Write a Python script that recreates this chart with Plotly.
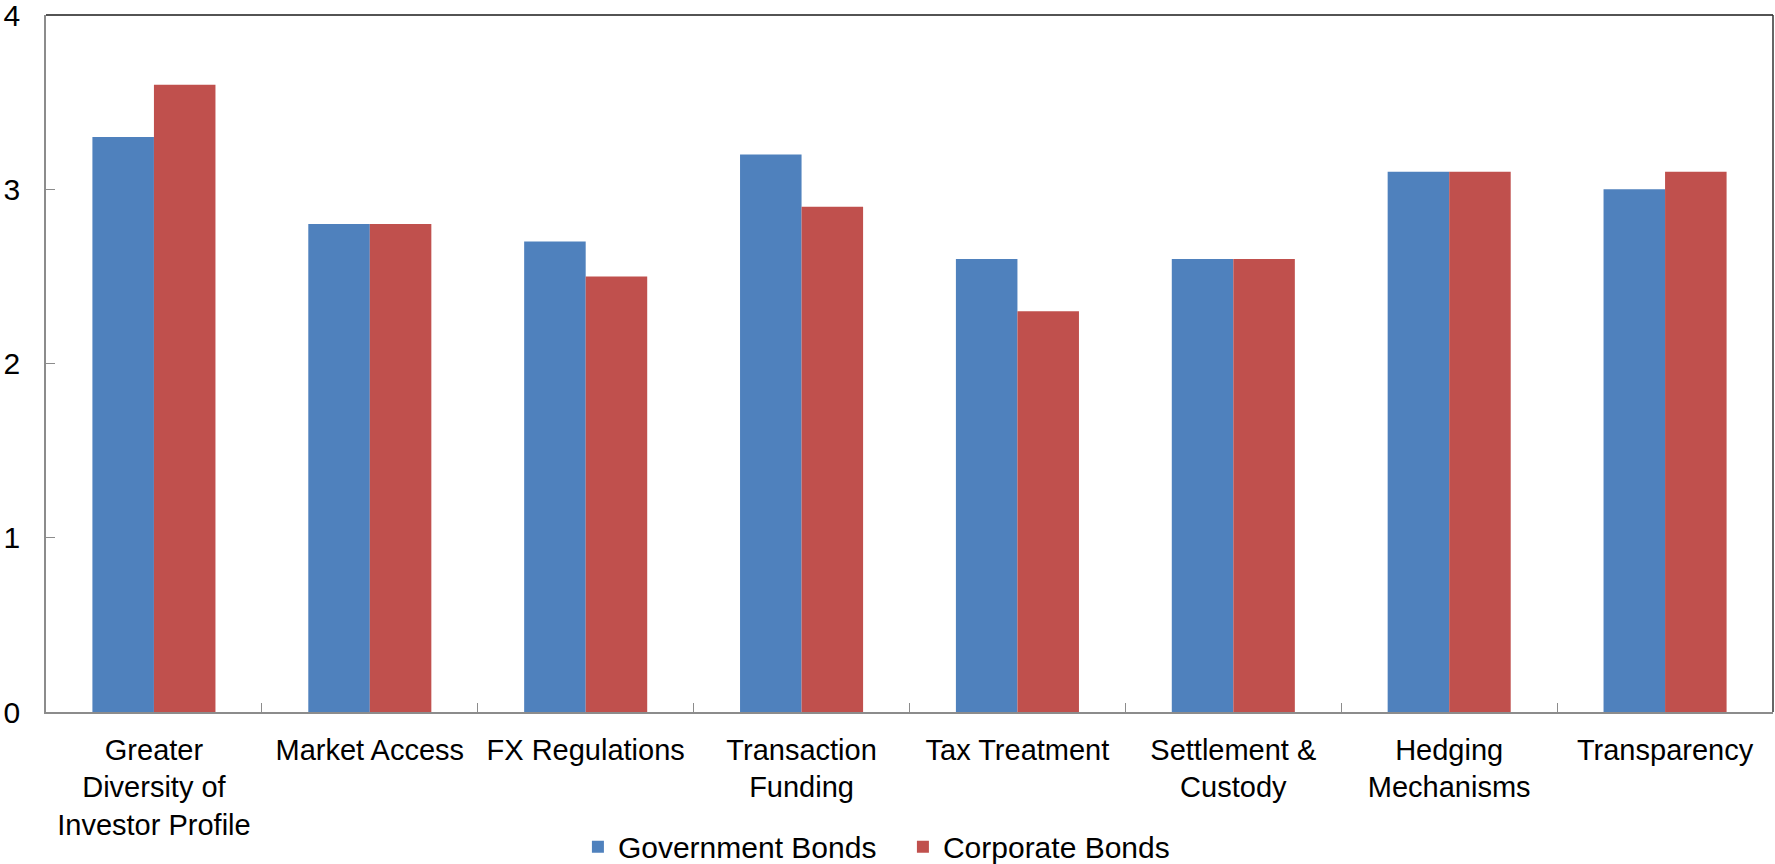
import plotly.graph_objects as go

categories = [
    "Greater<br>Diversity of<br>Investor Profile",
    "Market Access",
    "FX Regulations",
    "Transaction<br>Funding",
    "Tax Treatment",
    "Settlement &<br>Custody",
    "Hedging<br>Mechanisms",
    "Transparency",
]
government_bonds = [3.3, 2.8, 2.7, 3.2, 2.6, 2.6, 3.1, 3.0]
corporate_bonds = [3.6, 2.8, 2.5, 2.9, 2.3, 2.6, 3.1, 3.1]
y_ticks = [0, 1, 2, 3, 4]

BLUE = "#4F81BD"
RED = "#C0504D"
FONT = "Liberation Sans, Arial, sans-serif"

fig = go.Figure()
fig.add_trace(go.Bar(x=categories, y=government_bonds, name="Government Bonds",
                     marker=dict(color=BLUE, line=dict(width=0))))
fig.add_trace(go.Bar(x=categories, y=corporate_bonds, name="Corporate Bonds",
                     marker=dict(color=RED, line=dict(width=0))))

fig.update_layout(
    width=1775, height=864,
    margin=dict(l=46, r=2, t=15, b=152),
    plot_bgcolor="white", paper_bgcolor="white",
    barmode="group", bargap=0.43, bargroupgap=0,
    font=dict(family=FONT, size=29, color="black"),
    showlegend=True,
    legend=dict(orientation="h", x=0.308, xanchor="left",
                yref="container", y=0.02, yanchor="middle",
                entrywidth=280, entrywidthmode="pixels",
                font=dict(size=30), bgcolor="rgba(0,0,0,0)"),
    xaxis=dict(showline=True, linecolor="#8c8c8c", linewidth=1.5,
               ticks="inside", ticklen=9, tickcolor="#8c8c8c", tickson="boundaries",
               showgrid=False, ticklabelstandoff=11, tickangle=0,
               tickfont=dict(size=29), automargin=False),
    yaxis=dict(range=[0, 4], tickvals=y_ticks, showline=True, linecolor="#8c8c8c",
               linewidth=1.5, ticks="inside", ticklen=9, tickcolor="#8c8c8c",
               showgrid=False, zeroline=False, ticklabelstandoff=18,
               ticklabeloverflow="allow", automargin=False,
               tickfont=dict(size=30)),
)
# dark top and right frame
fig.add_shape(type="line", xref="paper", yref="paper", x0=0, x1=1, y0=1, y1=1,
              line=dict(color="#1a1a1a", width=1.5))
fig.add_shape(type="line", xref="paper", yref="paper", x0=1, x1=1, y0=0, y1=1,
              line=dict(color="#333333", width=1.5))

fig.write_html("out.html")
